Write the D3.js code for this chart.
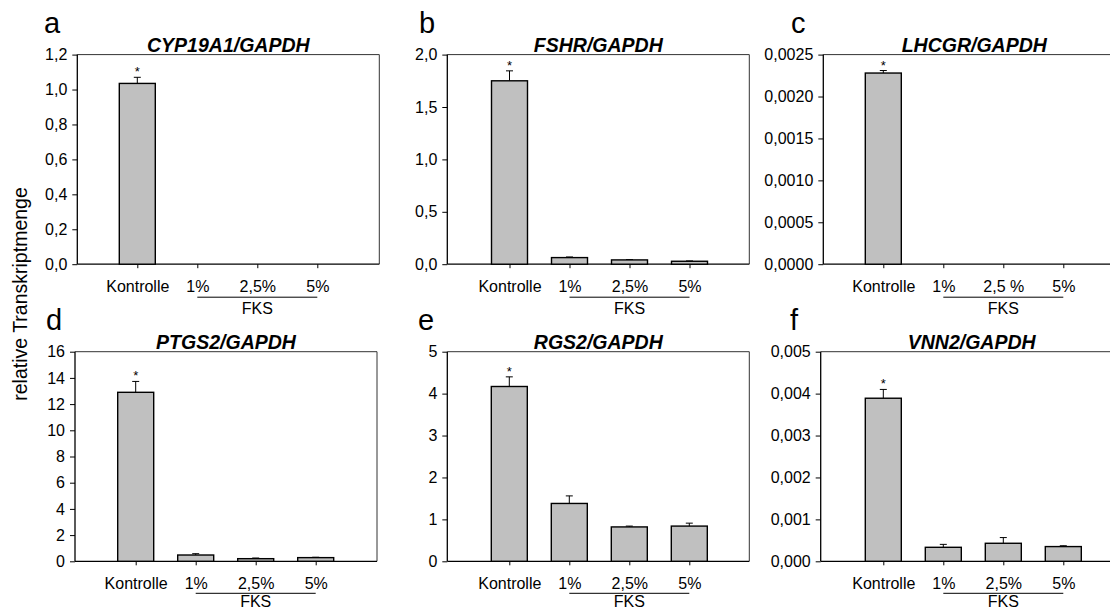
<!DOCTYPE html>
<html>
<head>
<meta charset="utf-8">
<script src="https://cdn.jsdelivr.net/npm/d3@7"></script>
<style>
  html, body { margin: 0; padding: 0; background: #fff; }
  svg { display: block; font-family: "Liberation Sans", Arial, sans-serif; }
</style>
</head>
<body>
<svg id="chart" width="1110" height="611"></svg>
<script>
// Treatment groups (Kontrolle + FKS concentrations)
const categories = ["Kontrolle", "1%", "2,5%", "5%"];
const categoriesC = ["Kontrolle", "1%", "2,5 %", "5%"];

// Panel letters and gene titles
const letters = ["a", "b", "c", "d", "e", "f"];
const genes = ["CYP19A1/GAPDH", "FSHR/GAPDH", "LHCGR/GAPDH", "PTGS2/GAPDH", "RGS2/GAPDH", "VNN2/GAPDH"];

// Mean relative transcript amounts (0 = not detected)
const cyp19a1 = [1.035, 0, 0, 0];
const fshr    = [1.75, 0.063, 0.041, 0.028];
const lhcgr   = [0.00228, 0, 0, 0];
const ptgs2   = [12.9, 0.48, 0.2, 0.28];
const rgs2    = [4.17, 1.38, 0.82, 0.84];
const vnn2    = [0.00389, 0.000334, 0.00043, 0.000351];

// Standard errors
const cyp19a1Err = [0.035, 0, 0, 0];
const fshrErr    = [0.095, 0.006, 0.003, 0.003];
const lhcgrErr   = [0.00003, 0, 0, 0];
const ptgs2Err   = [0.83, 0.1, 0.05, 0.03];
const rgs2Err    = [0.23, 0.18, 0.02, 0.07];
const vnn2Err    = [0.00021, 0.00007, 0.000136, 0.00002];

// Significance markers
const significant = [true, false, false, false];

// Y axis tick values per panel
const ticksA = [0, 0.2, 0.4, 0.6, 0.8, 1.0, 1.2];
const ticksB = [0, 0.5, 1.0, 1.5, 2.0];
const ticksC = [0, 0.0005, 0.001, 0.0015, 0.002, 0.0025];
const ticksD = [0, 2, 4, 6, 8, 10, 12, 14, 16];
const ticksE = [0, 1, 2, 3, 4, 5];
const ticksF = [0, 0.001, 0.002, 0.003, 0.004, 0.005];
const decimals = [1, 1, 4, 0, 0, 3];

const yLabel = "relative Transkriptmenge";
const groupLabel = "FKS";

const locale = d3.formatLocale({ decimal: ",", thousands: ".", grouping: [3], currency: ["", "€"] });

const panels = [
  { values: cyp19a1, errs: cyp19a1Err, ticks: ticksA, cats: categories },
  { values: fshr,    errs: fshrErr,    ticks: ticksB, cats: categories },
  { values: lhcgr,   errs: lhcgrErr,   ticks: ticksC, cats: categoriesC },
  { values: ptgs2,   errs: ptgs2Err,   ticks: ticksD, cats: categories },
  { values: rgs2,    errs: rgs2Err,    ticks: ticksE, cats: categories },
  { values: vnn2,    errs: vnn2Err,    ticks: ticksF, cats: categories }
];

// Layout of the six plot frames
const frameLeft = [77.3, 447.3, 823.3, 75, 447.3, 820.7];
const firstCenter = [137.3, 509.5, 883.3, 135.7, 509.3, 883.3];
const frameTop = [54.6, 54.6, 54.6, 351.7, 351.7, 351.7];
const frameW = 302, frameH = 209.6, catStep = 60, barW = 36;
const letterX = [44, 419, 791, 46, 418, 790];
// group bracket / label offsets below the x axis (top row, bottom row)
const bracketOffset = [33, 32];
const groupLabelOffset = [49.5, 46];

const svg = d3.select("#chart");
svg.append("rect").attr("width", 1110).attr("height", 611).attr("fill", "#fff");

panels.forEach((p, k) => {
  const row = k < 3 ? 0 : 1;
  const left = frameLeft[k], top = frameTop[k], bottom = top + frameH;
  const g = svg.append("g");

  const y = d3.scaleLinear()
    .domain([0, p.ticks[p.ticks.length - 1]])
    .range([bottom, top]);
  const x = d3.scaleLinear()
    .domain([0, categories.length - 1])
    .range([firstCenter[k], firstCenter[k] + catStep * (categories.length - 1)]);

  // frame: top/right lighter, left/bottom as axes
  g.append("line").attr("x1", left).attr("x2", left + frameW).attr("y1", top).attr("y2", top)
    .attr("stroke", "#333").attr("stroke-width", 1);
  g.append("line").attr("x1", left + frameW).attr("x2", left + frameW).attr("y1", top).attr("y2", bottom)
    .attr("stroke", "#333").attr("stroke-width", 1);

  // y axis
  const fmt = locale.format("." + decimals[k] + "f");
  const yAxis = d3.axisLeft(y).tickValues(p.ticks).tickFormat(fmt)
    .tickSize(5).tickPadding(5).tickSizeOuter(0);
  const ya = g.append("g").attr("transform", `translate(${left},0)`).call(yAxis);
  ya.select(".domain").remove();
  ya.selectAll("line").attr("stroke", "#000").attr("stroke-width", 1);
  ya.selectAll("text").attr("font-size", 16).attr("fill", "#000")
    .attr("font-family", "'Liberation Sans', Arial, sans-serif");

  // x axis
  const xAxis = d3.axisBottom(x).tickValues(d3.range(p.cats.length)).tickFormat(i => p.cats[i])
    .tickSize(4).tickPadding(12).tickSizeOuter(0);
  const xa = g.append("g").attr("transform", `translate(0,${bottom})`).call(xAxis);
  xa.select(".domain").remove();
  xa.selectAll("line").attr("stroke", "#000").attr("stroke-width", 1);
  xa.selectAll("text").attr("font-size", 16).attr("fill", "#000")
    .attr("font-family", "'Liberation Sans', Arial, sans-serif");

  // axis lines
  g.append("line").attr("x1", left).attr("x2", left).attr("y1", top).attr("y2", bottom)
    .attr("stroke", "#000").attr("stroke-width", 1.3);
  g.append("line").attr("x1", left).attr("x2", left + frameW).attr("y1", bottom).attr("y2", bottom)
    .attr("stroke", "#000").attr("stroke-width", 1.3);

  // bars
  const data = p.values.map((v, i) => ({ i, v, e: p.errs[i] })).filter(d => d.v > 0);

  // error bars (upper only)
  g.selectAll(".err").data(data).join("line")
    .attr("x1", d => x(d.i)).attr("x2", d => x(d.i))
    .attr("y1", d => y(d.v)).attr("y2", d => y(d.v + d.e))
    .attr("stroke", "#000").attr("stroke-width", 1);
  g.selectAll(".cap").data(data).join("line")
    .attr("x1", d => x(d.i) - 3.5).attr("x2", d => x(d.i) + 3.5)
    .attr("y1", d => y(d.v + d.e)).attr("y2", d => y(d.v + d.e))
    .attr("stroke", "#000").attr("stroke-width", 1);

  g.selectAll(".bar").data(data).join("rect")
    .attr("x", d => x(d.i) - barW / 2)
    .attr("width", barW)
    .attr("y", d => y(d.v))
    .attr("height", d => bottom - y(d.v))
    .attr("fill", "#c0c0c0")
    .attr("stroke", "#000").attr("stroke-width", 1.4);

  // significance asterisks
  g.selectAll(".star").data(data.filter(d => significant[d.i])).join("text")
    .attr("x", d => x(d.i)).attr("y", d => y(d.v + d.e) - 1)
    .attr("text-anchor", "middle").attr("font-size", 13).attr("fill", "#000")
    .text("*");

  // FKS group bracket
  g.append("line").attr("x1", x(1)).attr("x2", x(3))
    .attr("y1", bottom + bracketOffset[row]).attr("y2", bottom + bracketOffset[row])
    .attr("stroke", "#000").attr("stroke-width", 1);
  g.append("text").attr("x", x(2)).attr("y", bottom + groupLabelOffset[row])
    .attr("text-anchor", "middle").attr("font-size", 16).attr("fill", "#000")
    .text(groupLabel);

  // gene title
  g.append("text").attr("x", left + frameW / 2).attr("y", top - 3)
    .attr("text-anchor", "middle").attr("font-size", 19.5)
    .attr("font-weight", "bold").attr("font-style", "italic").attr("fill", "#000")
    .text(genes[k]);

  // panel letter
  g.append("text").attr("x", letterX[k]).attr("y", top - 21.5)
    .attr("font-size", 29).attr("fill", "#000")
    .text(letters[k]);
});

// shared y axis label
svg.append("text")
  .attr("transform", "translate(26.5,294) rotate(-90)")
  .attr("text-anchor", "middle").attr("font-size", 19.5).attr("fill", "#000")
  .text(yLabel);
</script>
</body>
</html>
